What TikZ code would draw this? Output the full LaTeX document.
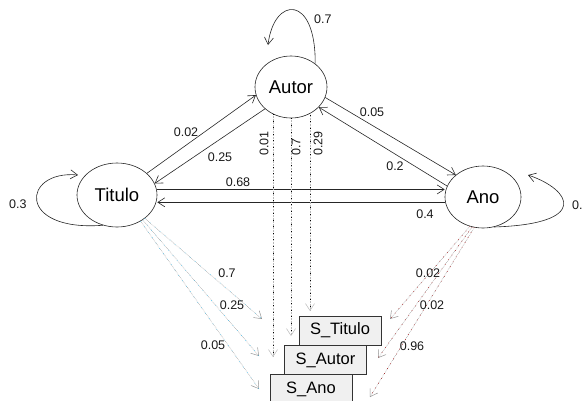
\documentclass[tikz,border=0pt]{standalone}
\usepackage{fontspec}
\setmainfont{Liberation Sans}
\usetikzlibrary{shapes.geometric,arrows.meta}

\begin{document}
\begin{tikzpicture}[x=1pt,y=-1pt,
  state/.style={draw=black!85,ellipse,inner sep=0pt,line width=0.6pt,
    font=\fontsize{18.5}{20}\selectfont},
  obs/.style={draw=black!80,fill=gray!12,rectangle,inner sep=0pt,line width=0.6pt,
    minimum width=82pt,minimum height=29pt,font=\fontsize{16.5}{18}\selectfont},
  lbl/.style={inner sep=0pt,font=\fontsize{12.5}{14}\selectfont,text=black!90},
  tip/.style={-{Straight Barb[length=7pt,width=9pt]}},
  arr/.style={tip,line width=0.6pt,draw=black!85},
  emit/.style={tip,line width=0.5pt,draw=gray!85,densely dotted},
  emitT/.style={emit,postaction={draw=cyan!80,-,dash pattern=on 0.6pt off 6pt}},
  emitA/.style={emit,draw=gray!55,postaction={draw=black,-,dash pattern=on 0.6pt off 6pt}},
  emitY/.style={emit,postaction={draw=red!60!black,-,dash pattern=on 0.7pt off 5pt}},
]
\useasboundingbox (0,0) rectangle (582,400);

% hidden states
\node[state,minimum width=72pt,minimum height=62pt] (Autor)  at (291,87)  {Autor};
\node[state,minimum width=80pt,minimum height=64pt] (Titulo) at (117,195) {Titulo};
\node[state,minimum width=76pt,minimum height=62pt] (Ano)    at (483,197) {Ano};

% observation boxes
\node[obs] (STitulo) at (340,330.5) {S\_Titulo};
\node[obs] (SAutor)  at (325.5,360) {S\_Autor};
\node[obs] (SAno)    at (311,389)   {S\_Ano};

% self loops
\coordinate (autorLoopEnd)  at (268,45);
\coordinate (tituloLoopEnd) at (78,175);
\coordinate (anoLoopEnd)    at (528,175);
\draw[arr] (Autor.44) .. controls (316,-6) and (274,-4) .. (autorLoopEnd);
\draw[arr] (Titulo.245) .. controls (16,232) and (22,170) .. (tituloLoopEnd);
\draw[arr] (Ano.290) .. controls (590,224) and (572,190) .. (anoLoopEnd);
\node[lbl,anchor=west] (lAutorSelf)  at (314,19)  {0.7};
\node[lbl,anchor=west] (lTituloSelf) at (9,204)   {0.3};
\node[lbl,anchor=west] (lAnoSelf)    at (572,205) {0.};

% transitions between states
\draw[arr] (Titulo.36) -- (Autor.193);
\draw[arr] (Autor.220) -- (Titulo.17);
\draw[arr] (Autor.343) -- (Ano.141);
\draw[arr] (Ano.163) -- (Autor.324);
\draw[arr] (Titulo.8) -- (Titulo.8 -| Ano.west);
\draw[arr] (Ano.188) -- (Ano.188 -| Titulo.east);
\node[lbl] (l02)  at (186,132) {0.02};
\node[lbl] (l25)  at (220,157) {0.25};
\node[lbl] (l05)  at (372,112) {0.05};
\node[lbl] (l2)   at (395,166) {0.2};
\node[lbl] (l68)  at (238,182) {0.68};
\node[lbl] (l4)   at (425,214) {0.4};

% emissions from Titulo
\coordinate (tT) at (262,319);
\coordinate (tA) at (259,356);
\coordinate (tY) at (259,389);
\draw[emitT] (Titulo.-40) -- (tT);
\draw[emitT] (Titulo.-44) -- (tA);
\draw[emitT] (Titulo.-48) -- (tY);
\node[lbl] (eT1) at (227,273) {0.7};
\node[lbl] (eT2) at (232,305) {0.25};
\node[lbl] (eT3) at (213,345) {0.05};

% emissions from Autor
\coordinate (aT) at (310,311);
\coordinate (aA) at (291,336);
\coordinate (aY) at (273,357);
\draw[emitA] (Autor.236 -| aY) -- (aY);
\draw[emitA] (Autor.south -| aA) -- (aA);
\draw[emitA] (Autor.302 -| aT) -- (aT);
\node[lbl,rotate=90,anchor=west] (eA1) at (264,156) {0.01};
\node[lbl,rotate=90,anchor=west] (eA2) at (296,156) {0.7};
\node[lbl,rotate=90,anchor=west] (eA3) at (318,156) {0.29};

% emissions from Ano
\coordinate (yT) at (390,319);
\coordinate (yA) at (378,358);
\coordinate (yY) at (370,397);
\draw[emitY] (Ano.246) -- (yT);
\draw[emitY] (Ano.250) -- (yA);
\draw[emitY] (Ano.254) -- (yY);
\node[lbl] (eY1) at (428,273) {0.02};
\node[lbl] (eY2) at (432,305) {0.02};
\node[lbl] (eY3) at (412,346) {0.96};
\end{tikzpicture}
\end{document}
